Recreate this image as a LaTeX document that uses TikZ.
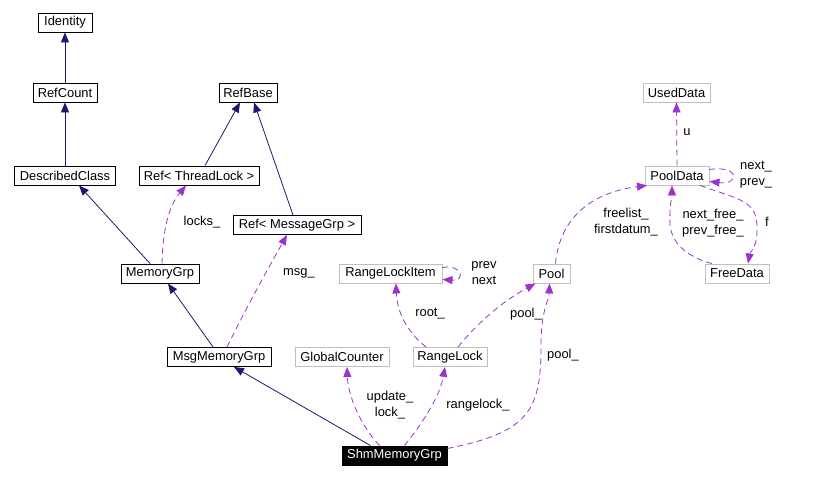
\documentclass[tikz,border=0pt]{standalone}
\usepackage{fontspec}
\setmainfont{Liberation Sans}
\usetikzlibrary{arrows.meta}
\definecolor{navy}{HTML}{191970}
\definecolor{purp}{HTML}{9A32CD}
\definecolor{boxgray}{HTML}{BFBFBF}
\newcommand\dfont{\fontsize{12.9}{16}\selectfont}
\tikzset{
  cls/.style={draw=black, line width=0.9pt, minimum height=19pt, inner sep=0pt, font=\dfont, fill=white},
  ucls/.style={cls, draw=boxgray},
  dcls/.style={cls, fill=black, text=white},
  inh/.style={draw=navy, line width=0.8pt, -{Triangle[length=10pt,width=8pt]}},
  use/.style={draw=purp, line width=0.8pt, dash pattern=on 6pt off 4pt, -{Triangle[length=10pt,width=8pt]}},
  lbl/.style={font=\dfont, align=center, inner sep=0pt}
}
\begin{document}
\begin{tikzpicture}[x=1pt,y=-1pt]
\useasboundingbox (0,0) rectangle (828,478);
% nodes
\node[cls, minimum width=54pt] (Identity) at (65,22.5) {Identity};
\node[cls, minimum width=64pt] (RefCount) at (65,92.5) {RefCount};
\node[cls, minimum width=101pt] (DescribedClass) at (65,175.5) {DescribedClass};
\node[cls, minimum width=58pt] (RefBase) at (248,92.5) {RefBase};
\node[cls, minimum width=120pt] (RefTL) at (199,175.5) {Ref< ThreadLock >};
\node[cls, minimum width=128pt] (RefMG) at (297,225) {Ref< MessageGrp >};
\node[cls, minimum width=78pt] (MemoryGrp) at (160,273.5) {MemoryGrp};
\node[cls, minimum width=104pt] (MsgMemoryGrp) at (219,357) {MsgMemoryGrp};
\node[ucls, minimum width=94pt] (GlobalCounter) at (342,357) {GlobalCounter};
\node[ucls, minimum width=74pt] (RangeLock) at (450,357) {RangeLock};
\node[ucls, minimum width=103pt] (RangeLockItem) at (390.5,273.5) {RangeLockItem};
\node[ucls, minimum width=37pt] (Pool) at (551.5,273.5) {Pool};
\node[dcls, minimum width=105pt] (Shm) at (394.5,455.5) {ShmMemoryGrp};
\node[ucls, minimum width=67pt] (UsedData) at (676.5,92.5) {UsedData};
\node[ucls, minimum width=64pt] (PoolData) at (677,175.5) {PoolData};
\node[ucls, minimum width=64pt] (FreeData) at (737,273.5) {FreeData};
% inheritance
\draw[inh] (RefCount.north) -- (Identity.south);
\draw[inh] (DescribedClass.north) -- (RefCount.south);
\draw[inh] ([xshift=-10pt]MemoryGrp.north) -- ([xshift=14pt]DescribedClass.south);
\draw[inh] ([xshift=6pt]RefTL.north) -- ([xshift=-8pt]RefBase.south);
\draw[inh] ([xshift=-4pt]RefMG.north) -- ([xshift=6pt]RefBase.south);
\draw[inh] ([xshift=-6pt]MsgMemoryGrp.north) -- ([xshift=8pt]MemoryGrp.south);
\draw[inh] ([xshift=-24pt]Shm.north) -- ([xshift=15pt]MsgMemoryGrp.south);
% usage
\draw[use] ([xshift=2pt]MemoryGrp.north) .. controls (163,225) and (170,205) .. ([xshift=-13pt]RefTL.south);
\node[lbl] (lLocks) at (202,222) {locks\_};
\draw[use] ([xshift=8pt]MsgMemoryGrp.north) .. controls (245,310) and (270,265) .. ([xshift=-10pt]RefMG.south);
\node[lbl] (lMsg) at (299,273) {msg\_};
\draw[use] ([xshift=-15pt]Shm.north) .. controls (360,425) and (348,395) .. ([xshift=5pt]GlobalCounter.south);
\node[lbl] (lUpd) at (390,405) {update\_\\lock\_};
\draw[use] ([xshift=10pt]Shm.north) .. controls (425,420) and (440,395) .. ([xshift=-5pt]RangeLock.south);
\node[lbl] (lRl) at (478,405) {rangelock\_};
\draw[use] ([yshift=7pt]Shm.east) .. controls (530,432) and (541,410) .. (541,345) .. controls (541,310) and (549,300) .. ([xshift=-2pt]Pool.south);
\node[lbl] (lPool2) at (563,355) {pool\_};
\draw[use] ([xshift=-24pt]RangeLock.north) .. controls (405,330) and (397,310) .. ([xshift=5.5pt]RangeLockItem.south);
\node[lbl] (lRoot) at (430,314) {root\_};
\draw[use] ([xshift=8pt]RangeLock.north) .. controls (480,320) and (505,300) .. ([xshift=-16pt]Pool.south);
\node[lbl] (lPool1) at (526,314) {pool\_};
\draw[use] ([yshift=6pt]RangeLockItem.east) .. controls (462,264) and (466,281) .. ([yshift=-6pt]RangeLockItem.east);
\node[lbl] (lPN) at (484,273) {prev\\next};
\draw[use] ([xshift=4pt]Pool.north) .. controls (560,215) and (595,192) .. ([xshift=-30pt]PoolData.south);
\node[lbl] (lFree) at (626,222) {freelist\_\\firstdatum\_};
\draw[use] (PoolData.north) -- (UsedData.south);
\node[lbl] (lU) at (687,132) {u};
\draw[use] ([yshift=6pt]PoolData.east) .. controls (740,165) and (740,185) .. ([yshift=-6pt]PoolData.east);
\node[lbl] (lNP) at (756,175) {next\_\\prev\_};
\draw[use] ([xshift=23pt]PoolData.south) .. controls (740,200) and (758,200) .. (757,230) .. controls (757,248) and (750,252) .. ([xshift=11pt]FreeData.north);
\node[lbl] (lF) at (767,222) {f};
\draw[use] ([xshift=-25pt]FreeData.north) .. controls (690,258) and (672,245) .. (670,225) .. controls (669,210) and (672,195) .. ([xshift=-5pt]PoolData.south);
\node[lbl] (lNF) at (713,223) {next\_free\_\\prev\_free\_};
\end{tikzpicture}
\end{document}
